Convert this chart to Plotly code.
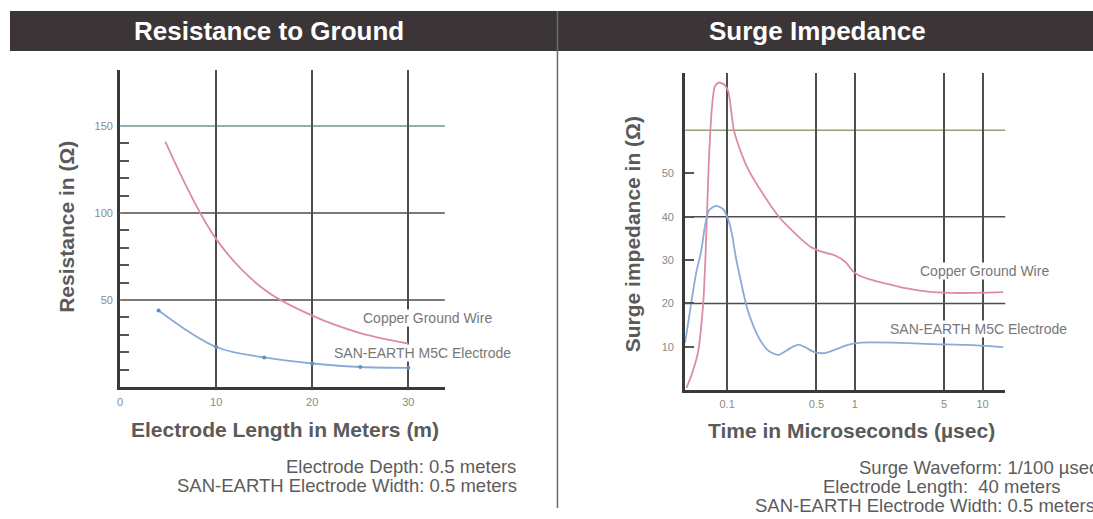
import plotly.graph_objects as go

W, H = 1093, 519

# ---------------- data ----------------
# Left: Resistance to Ground
length_copper = [4.7, 10, 15, 20, 25, 30]
res_copper = [141, 85, 56, 41, 31, 25]
length_san = [4, 10, 15, 20, 25, 30]
res_san = [44, 23, 17, 13.5, 11.5, 11]
left_xticks = [0, 10, 20, 30]
left_yticks = [50, 100, 150]
left_minor = [10, 20, 30, 40, 60, 70, 80, 90, 110, 120, 130, 140]

# Right: Surge Impedance (time in microseconds)
time_copper = [0.048, 0.052, 0.059, 0.065, 0.068, 0.072, 0.076, 0.080, 0.086, 0.095,
               0.102, 0.113, 0.128, 0.146, 0.184, 0.254, 0.345, 0.452, 0.541, 0.708,
               0.848, 0.961, 1.07, 1.33, 1.68, 2.49, 4.05, 6.70, 14.5]
imp_copper = [0.5, 3, 8.5, 20, 32, 53, 65, 70, 71, 70.5,
              69, 60, 55, 51, 46, 40, 36, 33, 32, 31,
              29.5, 27.5, 26.5, 25.5, 24.7, 23.5, 22.6, 22.4, 22.6]
time_san = [0.0469, 0.0523, 0.0572, 0.0626, 0.0672, 0.0722, 0.0819, 0.0929, 0.1016,
            0.1092, 0.1173, 0.1284, 0.143, 0.162, 0.184, 0.212, 0.250, 0.288, 0.327,
            0.364, 0.413, 0.477, 0.571, 0.683, 0.879, 1.07, 2.28, 4.12, 7.60, 14.5]
imp_san = [10.9, 20, 27, 32, 38, 41.5, 42.5, 41.8, 39.5,
           36, 30.5, 25, 19, 14.5, 11.2, 9, 8.1, 9, 10,
           10.5, 9.8, 8.8, 8.5, 9.2, 10.4, 10.9, 10.9, 10.6, 10.4, 9.9]
right_xticks = [0.1, 0.5, 1, 5, 10]
right_xlabels = ["0.1", "0.5", "1", "5", "10"]
right_yticks = [10, 20, 30, 40, 50]
right_grid = [20, 40, 60]

PINK = "#de8ca0"
BLUE = "#88acd6"
FONT = "Liberation Sans, Arial, Helvetica, sans-serif"


def px(x):
    return x / W


def py(y):
    return 1 - y / H


fig = go.Figure()

fig.add_trace(go.Scatter(x=length_copper, y=res_copper, mode="lines",
                         line=dict(color=PINK, width=1.8, shape="spline", smoothing=1.0),
                         xaxis="x", yaxis="y", showlegend=False))
fig.add_trace(go.Scatter(x=length_san, y=res_san, mode="lines+markers",
                         line=dict(color=BLUE, width=1.8, shape="spline", smoothing=1.0),
                         marker=dict(color="#5f8fc6", size=4),
                         xaxis="x", yaxis="y", showlegend=False))
fig.add_trace(go.Scatter(x=time_copper, y=imp_copper, mode="lines",
                         line=dict(color=PINK, width=1.8, shape="spline", smoothing=0.7),
                         xaxis="x2", yaxis="y2", showlegend=False))
fig.add_trace(go.Scatter(x=time_san, y=imp_san, mode="lines",
                         line=dict(color=BLUE, width=1.8, shape="spline", smoothing=0.7),
                         xaxis="x2", yaxis="y2", showlegend=False))

tickfont = dict(family=FONT, size=11, color="#8a8a8a")
GRID = "#4e4e4e"
AXIS = "#3a3a3a"

fig.update_layout(
    width=W, height=H, autosize=False,
    margin=dict(l=0, r=0, t=0, b=0),
    paper_bgcolor="white", plot_bgcolor="white",
    xaxis=dict(domain=[px(117.5), px(443)], range=[0, 33.8], anchor="y",
               tickmode="array", tickvals=left_xticks, showgrid=True,
               gridcolor=GRID, gridwidth=1.5, showline=True, linecolor=AXIS,
               linewidth=3, zeroline=False, ticks="", tickfont=tickfont,
               ticklabelstandoff=3),
    yaxis=dict(domain=[py(387), py(70)], range=[0, 182.2], anchor="x",
               tickmode="array", tickvals=left_yticks, showgrid=False,
               showline=True, linecolor=AXIS, linewidth=3, zeroline=False,
               ticks="", tickfont=tickfont, ticklabelstandoff=2,
               minor=dict(tickmode="array", tickvals=left_minor, ticks="inside",
                          ticklen=9, tickwidth=1.5, tickcolor="#555555",
                          showgrid=False)),
    xaxis2=dict(domain=[px(684), px(1005)], type="log", range=[-1.3286, 1.1772],
                anchor="y2", tickmode="array", tickvals=right_xticks,
                ticktext=right_xlabels, showgrid=True, gridcolor=GRID,
                gridwidth=1.5, showline=True, linecolor=AXIS, linewidth=3,
                zeroline=False, ticks="", tickfont=tickfont, ticklabelstandoff=2),
    yaxis2=dict(domain=[py(390), py(73)], range=[0, 73.2], anchor="x2",
                tickmode="array", tickvals=right_yticks, showgrid=False,
                showline=True, linecolor=AXIS, linewidth=3, zeroline=False,
                ticks="inside", ticklen=9, tickwidth=1.5, tickcolor="#555555",
                tickfont=tickfont, ticklabelstandoff=6),
)

shapes = []
# header bar
shapes.append(dict(type="rect", xref="paper", yref="paper", x0=px(7), x1=1.0,
                   y0=py(51), y1=py(11), fillcolor="#3b3538", line=dict(width=0),
                   layer="below"))
# separator
shapes.append(dict(type="line", xref="paper", yref="paper", x0=px(556), x1=px(556),
                   y0=py(508), y1=py(11), line=dict(color="#6a6a6a", width=1.5)))
# horizontal grid lines
for v in left_yticks:
    col = "#6f9491" if v == 150 else GRID
    shapes.append(dict(type="line", xref="x domain", yref="y", x0=0, x1=1, y0=v, y1=v,
                       line=dict(color=col, width=1.5), layer="below"))
for v in right_grid:
    col = "#97a070" if v == 60 else GRID
    shapes.append(dict(type="line", xref="x2 domain", yref="y2", x0=0, x1=1, y0=v, y1=v,
                       line=dict(color=col, width=1.5), layer="below"))
fig.update_layout(shapes=shapes)

ann = []


def text(x, y, s, size, color, bold=False, xanchor="center", angle=0, bg=None):
    d = dict(x=px(x), y=py(y), xref="paper", yref="paper", text=s, showarrow=False,
             xanchor=xanchor, yanchor="middle", textangle=angle,
             font=dict(family=FONT, size=size, color=color,
                       weight="bold" if bold else "normal"))
    if bg:
        d["bgcolor"] = bg
        d["borderpad"] = 0
    ann.append(d)


text(267, 31, "Resistance to Ground", 26, "white", bold=True)
text(817, 31, "Surge Impedance", 26, "white", bold=True)

text(63, 227, "Resistance in (Ω)", 21, "#5a5a5a", bold=True, angle=-90)
text(283, 429, "Electrode Length in Meters (m)", 21, "#5a5a5a", bold=True)
text(631, 234, "Surge impedance in (Ω)", 21, "#5a5a5a", bold=True, angle=-90)
text(851, 430, "Time in Microseconds (µsec)", 21, "#5a5a5a", bold=True)

text(426, 318, "Copper Ground Wire", 14, "#777777", bg="white")
text(420.5, 353, "SAN-EARTH M5C Electrode", 14, "#777777", bg="white")
text(984, 271, "Copper Ground Wire", 14, "#777777", bg="white")
text(978, 329, "SAN-EARTH M5C Electrode", 14, "#777777", bg="white")

text(516, 466, "Electrode Depth: 0.5 meters", 18.5, "#5c5c5c", xanchor="right")
text(517, 485, "SAN-EARTH Electrode Width: 0.5 meters", 18.5, "#5c5c5c", xanchor="right")

text(856, 467, "Surge Waveform: 1/100 µsec", 18.5, "#5c5c5c", xanchor="left")
text(820, 486, "Electrode Length:\u00a0 40 meters", 18.5, "#5c5c5c", xanchor="left")
text(752, 505, "SAN-EARTH Electrode Width: 0.5 meters", 18.5, "#5c5c5c", xanchor="left")

fig.update_layout(annotations=ann)

fig.write_html("out.html",
               config={"displayModeBar": False},
               post_script="document.body.style.margin='0';"
                           "document.body.style.overflow='hidden';")
